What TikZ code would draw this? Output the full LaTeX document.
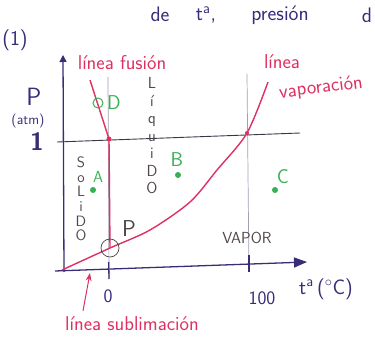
\documentclass[tikz,border=0pt]{standalone}
\usepackage{tikz}
\usetikzlibrary{arrows.meta,positioning}
\definecolor{inkblue}{RGB}{55,45,120}
\definecolor{inkred}{RGB}{222,48,98}
\definecolor{inkgreen}{RGB}{55,175,85}
\definecolor{inkgray}{RGB}{80,70,70}
\definecolor{guidegray}{RGB}{160,160,180}
\definecolor{atmgray}{RGB}{55,55,70}
\newcommand{\fsz}[1]{\fontsize{#1}{#1}\selectfont}

\begin{document}
\begin{tikzpicture}[x=1pt, y=-1pt, every node/.style={font=\sffamily},
    axisline/.style={inkblue, line width=1.3pt},
    guide/.style={guidegray, line width=0.7pt},
    atmline/.style={atmgray, line width=0.9pt},
    phase/.style={inkred, line width=1.4pt},
    redlbl/.style={inkred, font=\sffamily\fsz{20}, inner sep=0pt},
    axlbl/.style={inkblue, font=\sffamily\fsz{21}, inner sep=1pt},
    zonelbl/.style={inkgray, font=\sffamily\fsz{16}, inner sep=0pt},
    vword/.style={zonelbl, align=center},
    dot/.style={circle, fill=inkgreen, inner sep=0pt, minimum size=6pt},
    dotlbl/.style={inkgreen, font=\sffamily\fsz{20}, inner sep=0pt}]
  \useasboundingbox (0,0) rectangle (375,342);

  % Title fragment and number
  \node[axlbl] (de) at (160,14) {de};
  \node[axlbl] (ta) at (206,15) {t\textsuperscript{a},};
  \node[axlbl] (presion) at (280,15) {presión};
  \node[axlbl] (dcut) at (367,15) {d};
  \node[axlbl] (num) at (15,40) {(1)};

  % Axes
  \coordinate (origin) at (64,272);
  \coordinate (ytop) at (63,55);
  \coordinate (xstart) at (55,271);
  \coordinate (xend) at (307,262);
  \draw[axisline,-{Triangle[length=7pt,width=7pt]}] (origin) -- (ytop);
  \draw[axisline,-{Triangle[length=13pt,width=10pt]}] (xstart) -- (xend);

  % Guide lines at 0 and 100 degrees, 1 atm
  \coordinate (zerotop) at (108,77);
  \coordinate (zerobot) at (109,279);
  \coordinate (hundtop) at (247,74);
  \coordinate (hundbot) at (249,272);
  \draw[guide] (zerotop) -- (zerobot);
  \draw[guide] (hundtop) -- (hundbot);
  \draw[axisline] (108.7,262) -- (zerobot);
  \draw[axisline] (249,255) -- (hundbot);
  \coordinate (atmleft) at (57,142);
  \coordinate (atmright) at (300,133);
  \draw[atmline] (atmleft) -- (atmright);

  % Phase lines
  \coordinate (fustop) at (90,80);
  \coordinate (fusknee) at (109,139);
  \coordinate (triple) at (110,248);
  \draw[phase] (fustop) -- (fusknee) -- (triple);
  \draw[phase] plot[smooth] coordinates {(62,270) (triple) (150,230)
    (190,202) (217,170) (247,133) (268,82)};
  \fill[inkred] (fusknee) circle (2.5pt);
  \fill[inkred] (247,133) circle (2pt);
  \draw[inkgray, line width=0.7pt] (triple) circle (9pt);
  \node[inkgray, font=\sffamily\fsz{23}] (plbl) at (129,229) {P};

  % Axis labels
  \node[axlbl, font=\sffamily\fsz{25}] (plabel) at (34,97) {P};
  \node[inkblue, font=\sffamily\fsz{14}, inner sep=0pt] (atm) at (28,121) {(atm)};
  \node[axlbl, font=\sffamily\bfseries\fsz{25}] (one) at (37,142) {1};
  \node[axlbl, font=\sffamily\fsz{19}] (zero) at (108,296) {0};
  \node[axlbl, font=\sffamily\fsz{19}] (hund) at (262,298) {100};
  \node[axlbl] (temp) at (326,289) {t\textsuperscript{a}\,($^{\circ}$C)};

  % Zone names
  \node[vword, font=\sffamily\fontsize{16}{17.5}\selectfont] (liquido) at (152,136)
    {L\\í\\q\\u\\i\\D\\O};
  \node[vword, font=\sffamily\fontsize{15}{14.6}\selectfont] (solido) at (81,199)
    {S\\o\\L\\i\\D\\O};
  \node[zonelbl] (vapor) at (247,238) {VAPOR};

  % Points A-D
  \draw[inkgreen, line width=1pt] (98,103) circle (5pt);
  \node[dotlbl] (dlbl) at (114,103) {D};
  \node[dot] (pa) at (93,190) {};
  \node[dotlbl, font=\sffamily\fsz{16}] (albl) at (98,177) {A};
  \node[dot] (pb) at (178,175) {};
  \node[dotlbl] (blbl) at (177,160) {B};
  \node[dot] (pc) at (275,190) {};
  \node[dotlbl] (clbl) at (283,177) {C};

  % Line names
  \node[redlbl] (fusion) at (122,63) {línea fusión};
  \node[redlbl] (vaplbl1) at (282,62) {línea};
  \node[redlbl, rotate=7] (vaplbl2) at (321,88) {vaporación};
  \node[redlbl] (sublbl) at (132,324) {línea sublimación};
  \coordinate (subtip) at (90,273);
  \draw[inkred, line width=1pt, -{Stealth[length=8pt,width=6pt]}]
    ([xshift=-49pt,yshift=6pt]sublbl.north) -- (subtip);
\end{tikzpicture}
\end{document}
